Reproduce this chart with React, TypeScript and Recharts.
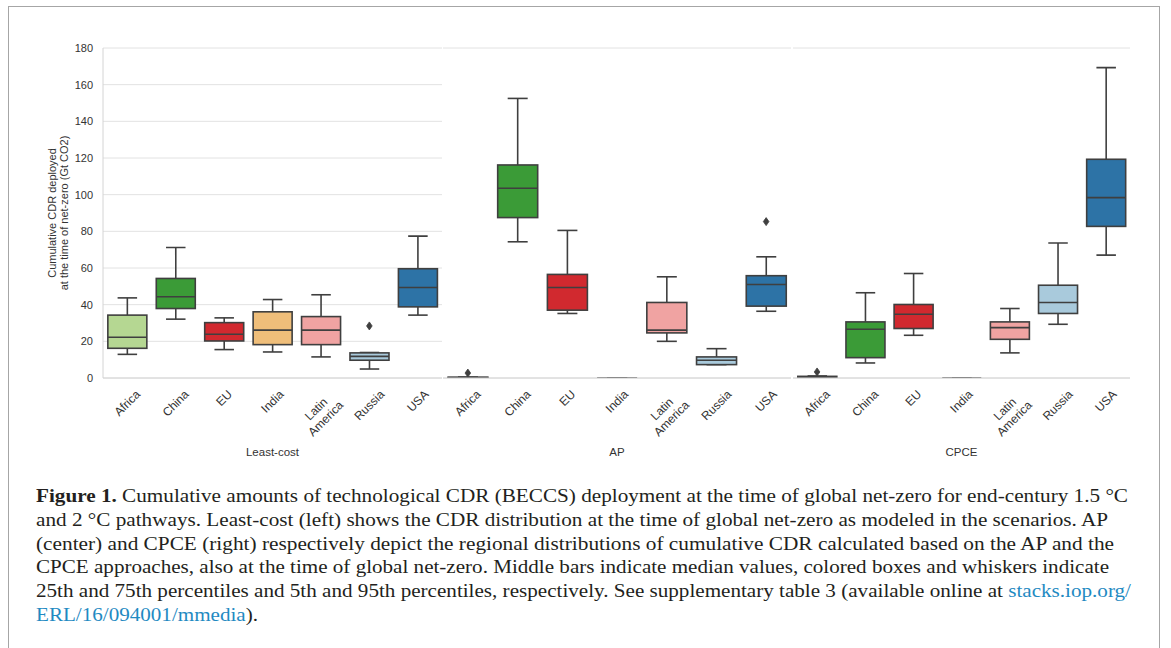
import React from 'react';
import { ComposedChart, Bar, Scatter, XAxis, YAxis, CartesianGrid } from 'recharts';

// ---------- data ----------
const categories = ['Africa', 'China', 'EU', 'India', 'Latin America', 'Russia', 'USA'];
const panelTitles = ['Least-cost', 'AP', 'CPCE'];
const yTicks = [0, 20, 40, 60, 80, 100, 120, 140, 160, 180];

// [5th pct, 25th pct, median, 75th pct, 95th pct]  (Gt CO2)
const leastCostStats = [
  [12.9, 16.2, 22.2, 34.3, 43.7],
  [32.1, 37.9, 44.3, 54.3, 71.2],
  [15.5, 20.2, 23.9, 30.2, 32.8],
  [14.2, 18.2, 26.1, 36.1, 42.8],
  [11.5, 18.2, 26.1, 33.5, 45.4],
  [4.9, 9.7, 11.8, 13.7, 13.9],
  [34.3, 38.8, 49.4, 59.6, 77.4],
];
const apStats = [
  [0, 0, 0.2, 0.4, 0.5],
  [74.3, 87.5, 103.5, 116.2, 152.5],
  [35.2, 37.0, 49.4, 56.5, 80.5],
  [0, 0, 0, 0, 0],
  [20.0, 24.6, 26.1, 41.2, 55.2],
  [7.3, 7.3, 9.7, 11.5, 16.0],
  [36.4, 39.2, 51.0, 55.8, 66.1],
];
const cpceStats = [
  [0.2, 0.4, 0.6, 0.9, 1.1],
  [8.2, 11.1, 26.6, 30.6, 46.5],
  [23.3, 27.0, 34.8, 40.1, 57.0],
  [0, 0, 0, 0, 0],
  [13.7, 21.1, 27.5, 30.6, 37.9],
  [29.3, 35.2, 41.2, 50.6, 73.6],
  [67.0, 82.7, 98.4, 119.3, 169.3],
];
const leastCostOutliers = [null, null, null, null, null, 28.4, null];
const apOutliers = [2.7, null, null, null, null, null, 85.3];
const cpceOutliers = [3.3, null, null, null, null, null, null];

const boxColors = ['#b5d792', '#3b9b37', '#d1292f', '#efbe7a', '#f0a3a2', '#a9cadc', '#2d73a6'];

// ---------- styling ----------
const SANS = "'Liberation Sans', Arial, sans-serif";
const SERIF = "'Liberation Serif', 'Times New Roman', serif";
const TEXT = '#333333';
const EDGE = '#3f3f3f';
const SPINE = '#d4d4d4';
const GRID = '#e2e2e2';
const XFS = 12;

function buildRows(stats: number[][], outliers: (number | null)[]) {
  return categories.map((name, i) => ({
    name,
    range: [stats[i][0], stats[i][4]],
    stats: stats[i],
    outlier: outliers[i] == null ? undefined : outliers[i],
    color: boxColors[i],
  }));
}

let measureCtx: CanvasRenderingContext2D | null = null;
function measure(s: string, font: string) {
  try {
    if (!measureCtx) measureCtx = document.createElement('canvas').getContext('2d');
    if (measureCtx) {
      measureCtx.font = font;
      return measureCtx.measureText(s).width;
    }
  } catch (e) {}
  return s.length * 6.5;
}

const XTick = (props: any) => {
  const { x, y, payload } = props;
  const lines = String(payload.value).split(' ');
  const lh = 13.5;
  const w = Math.max(...lines.map((l) => measure(l, `${XFS}px ${SANS}`)));
  const h = lines.length === 1 ? 12 : lines.length * lh + 2;
  const bb = (w + h) / Math.SQRT2;
  const cy = y + 2 + bb / 2;
  return (
    <g transform={`translate(${x},${cy}) rotate(-45)`}>
      {lines.map((l, i) => (
        <text
          key={i}
          x={0}
          y={(i - (lines.length - 1) / 2) * lh}
          textAnchor="middle"
          dominantBaseline="central"
          fontSize={XFS}
          fontFamily={SANS}
          fill={TEXT}
        >
          {l}
        </text>
      ))}
    </g>
  );
};

const BoxShape = (props: any) => {
  const { x, y, width, height, payload } = props;
  if (x == null || y == null || !payload) return <g />;
  const [lo, q1, med, q3, hi] = payload.stats as number[];
  const top = Math.min(y, y + height);
  const bottom = Math.max(y, y + height);
  const px = (v: number) => (hi === lo ? bottom : bottom - ((v - lo) / (hi - lo)) * (bottom - top));
  const cx = x + width / 2;
  const capW = width * 0.5;
  const yQ1 = px(q1);
  const yQ3 = px(q3);
  const yMed = px(med);
  const yLo = px(lo);
  const yHi = px(hi);
  return (
    <g>
      <line x1={cx} x2={cx} y1={yHi} y2={yQ3} stroke={EDGE} strokeWidth={1.6} />
      <line x1={cx} x2={cx} y1={yQ1} y2={yLo} stroke={EDGE} strokeWidth={1.6} />
      <line x1={cx - capW / 2} x2={cx + capW / 2} y1={yHi} y2={yHi} stroke={EDGE} strokeWidth={1.6} />
      <line x1={cx - capW / 2} x2={cx + capW / 2} y1={yLo} y2={yLo} stroke={EDGE} strokeWidth={1.6} />
      <rect x={x} y={yQ3} width={width} height={Math.max(0, yQ1 - yQ3)} fill={payload.color} stroke={EDGE} strokeWidth={1.6} />
      <line x1={x} x2={x + width} y1={yMed} y2={yMed} stroke={EDGE} strokeWidth={1.6} />
    </g>
  );
};

const OutlierShape = (props: any) => {
  const { cx, cy, payload } = props;
  if (!payload || payload.outlier == null || cx == null || cy == null || isNaN(cx) || isNaN(cy)) return <g />;
  return (
    <path
      d={`M${cx},${cy - 4} L${cx + 2.8},${cy} L${cx},${cy + 4} L${cx - 2.8},${cy} Z`}
      fill={EDGE}
      stroke={EDGE}
      strokeWidth={0.8}
    />
  );
};

type PanelProps = {
  rows: any[];
  width: number;
  yWidth: number;
  showTicks: boolean;
  leftSpine: boolean;
  rightSpine: boolean;
};

function Panel({ rows, width, yWidth, showTicks, leftSpine, rightSpine }: PanelProps) {
  return (
    <ComposedChart
      width={width}
      height={470}
      data={rows}
      margin={{ top: 48, right: 0, bottom: 12, left: 0 }}
      barCategoryGap="10%"
    >
      <CartesianGrid vertical={false} stroke={GRID} strokeWidth={1} />
      <XAxis
        dataKey="name"
        interval={0}
        height={80}
        tickLine={false}
        axisLine={{ stroke: SPINE }}
        tick={<XTick />}
      />
      <YAxis
        domain={[0, 180]}
        ticks={yTicks}
        width={yWidth}
        tickLine={false}
        tickMargin={4}
        tick={showTicks ? { fontSize: 11, fill: TEXT, fontFamily: SANS } : false}
        axisLine={leftSpine ? { stroke: SPINE } : false}
        allowDataOverflow
      />
      {rightSpine && (
        <YAxis
          yAxisId="r"
          orientation="right"
          domain={[0, 180]}
          ticks={yTicks}
          width={0}
          tick={false}
          tickLine={false}
          axisLine={{ stroke: SPINE }}
        />
      )}
      <Bar dataKey="range" shape={BoxShape} isAnimationActive={false} />
      <Scatter dataKey="outlier" shape={OutlierShape} isAnimationActive={false} />
    </ComposedChart>
  );
}

const panelLayout = [
  { left: 0, width: 442, yWidth: 103, showTicks: true, leftSpine: true, rightSpine: false },
  { left: 443, width: 348, yWidth: 0, showTicks: false, leftSpine: false, rightSpine: true },
  { left: 793, width: 337, yWidth: 0, showTicks: false, leftSpine: true, rightSpine: true },
];

const captionLines = [
  { y: 502, len: 1092 },
  { y: 525.7, len: 1072 },
  { y: 549.5, len: 1078 },
  { y: 573.4, len: 1073 },
  { y: 597.2, len: 1095 },
  { y: 621, len: 222 },
];

export default function App() {
  const panelRows = [
    buildRows(leastCostStats, leastCostOutliers),
    buildRows(apStats, apOutliers),
    buildRows(cpceStats, cpceOutliers),
  ];
  const link = '#1f8ac2';
  const ink = '#231f20';
  return (
    <div
      style={{
        position: 'absolute',
        left: 0,
        top: 0,
        width: 1171,
        height: 648,
        background: '#ffffff',
        overflow: 'hidden',
      }}
    >
      <div
        style={{
          position: 'absolute',
          left: 8,
          top: 6,
          width: 1150,
          height: 700,
          border: '1.5px solid #a6a6a6',
        }}
      />
      {panelLayout.map((p, i) => (
        <div key={i} style={{ position: 'absolute', left: p.left, top: 0 }}>
          <Panel
            rows={panelRows[i]}
            width={p.width}
            yWidth={p.yWidth}
            showTicks={p.showTicks}
            leftSpine={p.leftSpine}
            rightSpine={p.rightSpine}
          />
        </div>
      ))}
      <svg
        width={1171}
        height={648}
        style={{ position: 'absolute', left: 0, top: 0, pointerEvents: 'none' }}
      >
        <text
          transform="translate(52,213) rotate(-90)"
          textAnchor="middle"
          dominantBaseline="central"
          fontSize={11}
          fontFamily={SANS}
          fill={TEXT}
        >
          Cumulative CDR deployed
        </text>
        <text
          transform="translate(63.5,213) rotate(-90)"
          textAnchor="middle"
          dominantBaseline="central"
          fontSize={11}
          fontFamily={SANS}
          fill={TEXT}
        >
          at the time of net-zero (Gt CO2)
        </text>
        {panelLayout.map((p, i) => (
          <text
            key={i}
            x={p.left + (p.yWidth + p.width) / 2}
            y={452}
            textAnchor="middle"
            dominantBaseline="central"
            fontSize={11.5}
            fontFamily={SANS}
            fill={TEXT}
          >
            {panelTitles[i]}
          </text>
        ))}
        <g fontFamily={SERIF} fontSize={19} fill={ink}>
          <text x={36} y={captionLines[0].y} textLength={captionLines[0].len} lengthAdjust="spacingAndGlyphs">
            <tspan fontWeight="bold">Figure 1.</tspan>
            {' Cumulative amounts of technological CDR (BECCS) deployment at the time of global net-zero for end-century 1.5 °C'}
          </text>
          <text x={36} y={captionLines[1].y} textLength={captionLines[1].len} lengthAdjust="spacingAndGlyphs">
            and 2 °C pathways. Least-cost (left) shows the CDR distribution at the time of global net-zero as modeled in the scenarios. AP
          </text>
          <text x={36} y={captionLines[2].y} textLength={captionLines[2].len} lengthAdjust="spacingAndGlyphs">
            (center) and CPCE (right) respectively depict the regional distributions of cumulative CDR calculated based on the AP and the
          </text>
          <text x={36} y={captionLines[3].y} textLength={captionLines[3].len} lengthAdjust="spacingAndGlyphs">
            CPCE approaches, also at the time of global net-zero. Middle bars indicate median values, colored boxes and whiskers indicate
          </text>
          <text x={36} y={captionLines[4].y} textLength={captionLines[4].len} lengthAdjust="spacingAndGlyphs">
            {'25th and 75th percentiles and 5th and 95th percentiles, respectively. See supplementary table 3 (available online at '}
            <tspan fill={link}>stacks.iop.org/</tspan>
          </text>
          <text x={36} y={captionLines[5].y} textLength={captionLines[5].len} lengthAdjust="spacingAndGlyphs">
            <tspan fill={link}>ERL/16/094001/mmedia</tspan>
            <tspan>).</tspan>
          </text>
        </g>
      </svg>
    </div>
  );
}
